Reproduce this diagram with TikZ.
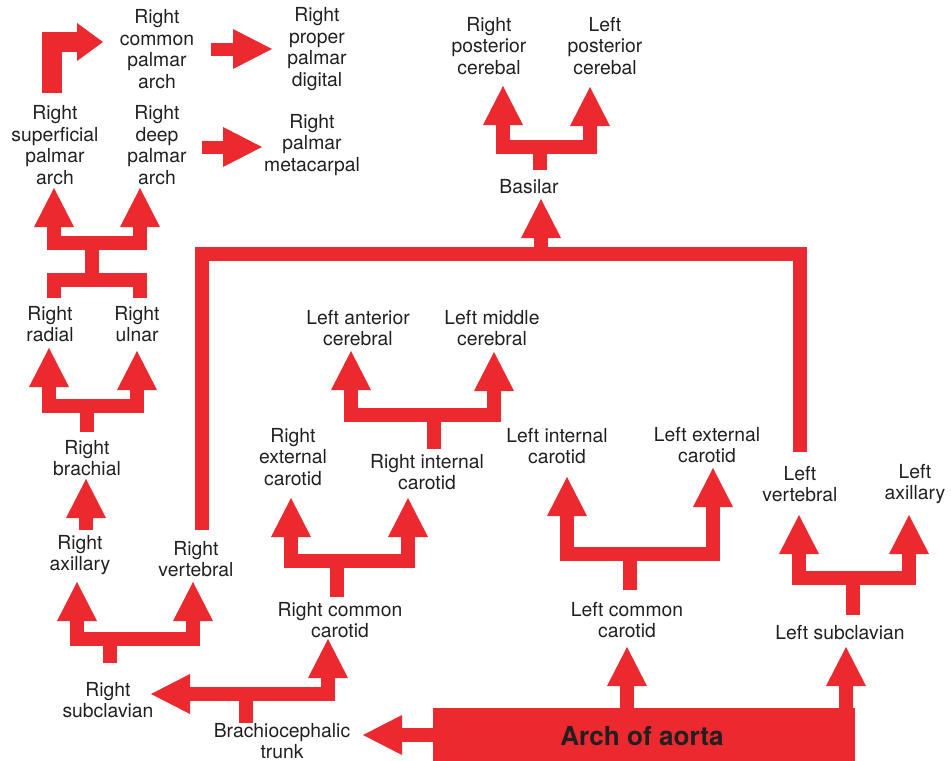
\documentclass[tikz,border=0pt]{standalone}
\usepackage{fontspec}
\setmainfont{TeX Gyre Heros}
\definecolor{arteryred}{RGB}{236,41,46}
\definecolor{ink}{RGB}{35,31,32}
\begin{document}
\begin{tikzpicture}[x=0.75pt,y=-0.75pt,
  shaft/.style={draw=arteryred,line width=10.5pt,line cap=butt,line join=miter},
  thinshaft/.style={shaft,line width=9.75pt},
  wideshaft/.style={shaft,line width=15pt},
  lbl/.style={font=\fontsize{14.5}{16.2}\selectfont,align=center,inner sep=0pt,text=ink},
  pics/tipup/.style={code={\fill[arteryred] (0,0) -- (20,39) -- (-20,39) -- cycle;}},
  pics/tipright/.style={code={\fill[arteryred] (0,0) -- (-39,20) -- (-39,-20) -- cycle;}},
  pics/tipleft/.style={code={\fill[arteryred] (0,0) -- (39,20) -- (39,-20) -- cycle;}},
  pics/tipbend/.style={code={\fill[arteryred] (0,0) -- (-26,19) -- (-26,-19) -- cycle;}}]
\useasboundingbox (0,0) rectangle (951,761);

% ---------- labels ----------
\node[lbl] (rcpa) at (157,49)  {Right\\common\\palmar\\arch};
\node[lbl] (rppd) at (317,49)  {Right\\proper\\palmar\\digital};
\node[lbl] (rspa) at (55,145)  {Right\\superficial\\palmar\\arch};
\node[lbl] (rdpa) at (157,145) {Right\\deep\\palmar\\arch};
\node[lbl] (rpm)  at (312,145) {Right\\palmar\\metacarpal};
\node[lbl] (rrad) at (50,324)  {Right\\radial};
\node[lbl] (ruln) at (137,324) {Right\\ulnar};
\node[lbl] (rbra) at (87,458)  {Right\\brachial};
\node[lbl] (rax)  at (80,555)  {Right\\axillary};
\node[lbl] (rvert) at (196,559) {Right\\vertebral};
\node[lbl] (rsub) at (108,700) {Right\\subclavian};
\node[lbl] (bct)  at (282,741) {Brachiocephalic\\trunk};
\node[lbl] (rcc)  at (340,620) {Right common\\carotid};
\node[lbl] (rec)  at (293,457) {Right\\external\\carotid};
\node[lbl] (ric)  at (427,472) {Right internal\\carotid};
\node[lbl] (lac)  at (358,328) {Left anterior\\cerebral};
\node[lbl] (lmc)  at (492,328) {Left middle\\cerebral};
\node[lbl] (lic)  at (557,446) {Left internal\\carotid};
\node[lbl] (lec)  at (707,445) {Left external\\carotid};
\node[lbl] (lvert) at (800,484) {Left\\vertebral};
\node[lbl] (lax)  at (915,484) {Left\\axillary};
\node[lbl] (lcc)  at (627,620) {Left common\\carotid};
\node[lbl] (lsub) at (840,633) {Left subclavian};
\node[lbl] (rpc)  at (489,46)  {Right\\posterior\\cerebal};
\node[lbl] (lpc)  at (605,46)  {Left\\posterior\\cerebal};
\node[lbl] (bas)  at (529,187) {Basilar};

% ---------- arrow tips ----------
\coordinate (tRCPA) at (103,42);
\coordinate (tRPPD) at (272,49);
\coordinate (tRPM)  at (262,147);
\coordinate (tRSPA) at (54,188);
\coordinate (tRDPA) at (140,188);
\coordinate (tRRAD) at (49,348);
\coordinate (tRULN) at (137,351);
\coordinate (tRBRA) at (86,479);
\coordinate (tRAX)  at (77,582);
\coordinate (tRVERT) at (193,582);
\coordinate (tRSUB) at (151,694);
\coordinate (tRCC)  at (328,639);
\coordinate (tBCT)  at (363,735);
\coordinate (tREC)  at (291,498);
\coordinate (tRIC)  at (408,498);
\coordinate (tLAC)  at (351,351);
\coordinate (tLMC)  at (494,352);
\coordinate (tLIC)  at (567,477);
\coordinate (tLEC)  at (713,468);
\coordinate (tLVERT) at (799,515);
\coordinate (tLAX)  at (909,515);
\coordinate (tLCC)  at (627,647);
\coordinate (tLSUB) at (846,647);
\coordinate (tBAS)  at (541,199);
\coordinate (tRPC)  at (503,86);
\coordinate (tLPC)  at (590,87);

% ---------- hand ----------
\draw[wideshaft] (52,93) -- (52,42) -- (78,42);
\pic at (tRCPA) {tipbend};
\draw[thinshaft] (211,49) -- (235,49);
\pic at (tRPPD) {tipright};
\draw[thinshaft] (202,147) -- (225,147);
\pic at (tRPM) {tipright};

% radial + ulnar joining into the palmar arches
\draw[shaft] (54,224) -- (54,243) -- (140,243) -- (140,224);
\draw[shaft] (92,243) -- (92,280);
\draw[shaft] (54,298) -- (54,280) -- (140,280) -- (140,298);
\pic at (tRSPA) {tipup};
\pic at (tRDPA) {tipup};

% brachial fork
\draw[shaft] (49,384) -- (49,406) -- (137,406) -- (137,387);
\draw[shaft] (87,406) -- (87,432);
\pic at (tRRAD) {tipup};
\pic at (tRULN) {tipup};

% axillary to brachial
\draw[shaft] (86,515) -- (86,530);
\pic at (tRBRA) {tipup};

% right subclavian fork
\draw[shaft] (77,618) -- (77,639) -- (193,639) -- (193,618);
\draw[shaft] (110,639) -- (110,663);
\pic at (tRAX) {tipup};
\pic at (tRVERT) {tipup};

% vertebral arteries joining into the basilar
\draw[shaft] (202,530) -- (202,254) -- (800,254) -- (800,452);
\draw[shaft] (541,235) -- (541,254);
\pic at (tBAS) {tipup};

% basilar fork
\draw[shaft] (503,122) -- (503,147) -- (590,147) -- (590,123);
\draw[shaft] (540,147) -- (540,170);
\pic at (tRPC) {tipup};
\pic at (tLPC) {tipup};

% internal carotid fork
\draw[shaft] (351,387) -- (351,415) -- (494,415) -- (494,388);
\draw[shaft] (434,415) -- (434,449);
\pic at (tLAC) {tipup};
\pic at (tLMC) {tipup};

% right common carotid fork
\draw[shaft] (291,534) -- (291,561) -- (408,561) -- (408,534);
\draw[shaft] (337,561) -- (337,597);
\pic at (tREC) {tipup};
\pic at (tRIC) {tipup};

% left common carotid fork
\draw[shaft] (567,513) -- (567,554) -- (713,554) -- (713,504);
\draw[shaft] (630,554) -- (630,590);
\pic at (tLIC) {tipup};
\pic at (tLEC) {tipup};

% left subclavian fork
\draw[shaft] (799,551) -- (799,578) -- (909,578) -- (909,551);
\draw[shaft] (853,578) -- (853,615);
\pic at (tLVERT) {tipup};
\pic at (tLAX) {tipup};

% brachiocephalic trunk
\draw[shaft] (187,694) -- (328,694) -- (328,675);
\draw[shaft] (246,694) -- (246,723);
\pic at (tRSUB) {tipleft};
\pic at (tRCC) {tipup};

% arch of aorta and its branches
\draw[shaft] (627,712) -- (627,683);
\draw[shaft] (846,712) -- (846,683);
\pic at (tLCC) {tipup};
\pic at (tLSUB) {tipup};
\draw[shaft] (440,735) -- (400,735);
\pic at (tBCT) {tipleft};
\fill[arteryred] (433,708) rectangle (855,761);
\node[lbl,font=\fontsize{19.6}{22}\selectfont\bfseries] (arch) at (642,736) {Arch of aorta};
\end{tikzpicture}
\end{document}
